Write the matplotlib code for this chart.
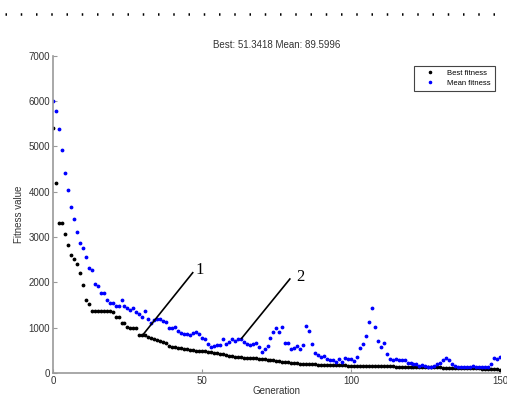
import matplotlib
import matplotlib.pyplot as plt
from matplotlib.lines import Line2D
import numpy as np

matplotlib.use('Agg')
plt.rcParams['font.family'] = ['Liberation Sans', 'DejaVu Sans']

# Fitness per generation (0..150)
best_fitness = [
    5400, 4190, 3320, 3320, 3060, 2820, 2600, 2510, 2400, 2200,
    1950, 1610, 1520, 1375, 1375, 1375, 1375, 1375, 1375, 1375,
    1350, 1240, 1230, 1100, 1100, 1010, 1000, 990, 985, 850,
    850, 850, 800, 770, 740, 720, 700, 690, 660, 600,
    580, 575, 560, 550, 530, 520, 510, 500, 495, 490,
    490, 485, 465, 455, 440, 435, 430, 415, 405, 380,
    365, 350, 345, 345, 340, 340, 335, 330, 325, 320,
    310, 300, 295, 290, 280, 270, 260, 250, 245, 240,
    230, 225, 215, 210, 205, 200, 198, 195, 190, 188,
    185, 185, 183, 180, 180, 178, 175, 172, 170, 165,
    160, 158, 157, 156, 155, 154, 153, 152, 151, 150,
    150, 148, 147, 146, 145, 144, 143, 142, 141, 140,
    140, 138, 136, 135, 133, 132, 130, 128, 127, 125,
    125, 122, 120, 118, 117, 115, 114, 113, 112, 110,
    110, 108, 105, 102, 100, 96, 92, 88, 84, 80,
    75,
]
mean_fitness = [
    6010, 5780, 5380, 4920, 4420, 4050, 3660, 3400, 3120, 2880,
    2750, 2550, 2320, 2270, 1960, 1930, 1770, 1770, 1610, 1540,
    1540, 1490, 1490, 1610, 1490, 1440, 1400, 1440, 1340, 1300,
    1230, 1360, 1200, 1110, 1170, 1200, 1200, 1140, 1130, 1000,
    1000, 1020, 925, 880, 870, 860, 840, 880, 915, 870,
    765, 740, 630, 580, 600, 620, 620, 740, 630, 690,
    740, 700, 760, 740, 690, 640, 610, 640, 655, 580,
    470, 520, 600, 765, 910, 990, 910, 1010, 670, 670,
    520, 560, 600, 520, 620, 1040, 930, 640, 435, 400,
    350, 380, 300, 290, 290, 250, 300, 250, 330, 316,
    316, 270, 360, 545, 630, 815, 1120, 1430, 1020, 715,
    580, 670, 420, 320, 280, 320, 280, 280, 280, 230,
    230, 200, 200, 160, 180, 160, 130, 130, 150, 200,
    220, 290, 340, 280, 200, 160, 140, 130, 140, 140,
    140, 160, 130, 140, 130, 130, 130, 210, 340, 320,
    360,
]
generations = np.arange(len(best_fitness))

fig = plt.figure(figsize=(5.07, 3.96), dpi=100)
ax = fig.add_axes([0.1045, 0.058, 0.8815, 0.801])

ax.plot(generations, best_fitness, '.', color='black', markersize=3.5, label='Best fitness')
ax.plot(generations, mean_fitness, '.', color='blue', markersize=3.5, label='Mean fitness')

ax.set_xlim(0, 150)
ax.set_ylim(0, 7000)
ax.set_xticks([0, 50, 100, 150])
ax.set_yticks(range(0, 7001, 1000))
ax.tick_params(direction='in', length=3, pad=2, labelsize=7, colors='#999999', labelcolor='#333333')
for side in ['top', 'right']:
    ax.spines[side].set_visible(False)
for side in ['left', 'bottom']:
    ax.spines[side].set_color('#999999')
    ax.spines[side].set_linewidth(1.2)

ax.set_title("Best: 51.3418 Mean: 89.5996", fontsize=7, color='#333333', pad=6)
ax.set_xlabel("Generation", fontsize=7, color='#333333', labelpad=0)
ax.set_ylabel("Fitness value", fontsize=7, color='#333333', labelpad=3)

leg = ax.legend(loc='upper right', fontsize=5.5, markerscale=0.9, handlelength=3,
                fancybox=False, framealpha=1, borderpad=0.5, labelspacing=0.3,
                bbox_to_anchor=(0.997, 0.98))
leg.get_frame().set_edgecolor('#444444')
leg.get_frame().set_linewidth(0.8)

# callout lines with labels
ax.plot([30.3, 46.9], [854, 2214], color='black', linewidth=1.2)
ax.text(47.8, 2270, "1", family='Liberation Serif', fontsize=12, ha='left', va='center')
ax.plot([63.3, 79.5], [765, 2075], color='black', linewidth=1.2)
ax.text(81.5, 2120, "2", family='Liberation Serif', fontsize=12, ha='left', va='center')

# dotted separator at the top of the page
fig.add_artist(Line2D([0.01, 0.995], [0.964, 0.964], transform=fig.transFigure,
                      color='black', linewidth=1.8, linestyle=(0, (0.6, 5.5))))

plt.savefig('out.png', dpi=100)
